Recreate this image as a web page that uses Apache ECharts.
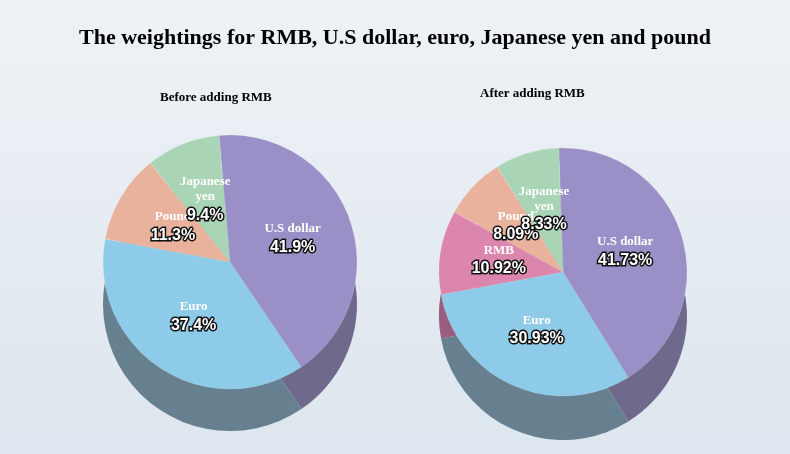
<!DOCTYPE html>
<html style="height: 100%" lang="en">
<head>
    <meta charset="UTF-8">
    <title>RMB weightings</title>
</head>
<body style="height: 100%; margin: 0; background: linear-gradient(#eef2f6, #dde6ee);">
<div id="main" style="width: 790px; height: 454px"></div>

<script src="https://cdn.jsdelivr.net/npm/echarts@6/dist/echarts.min.js"></script>
<script type="text/javascript">
    // data
    var beforeNames = ['U.S dollar', 'Euro', 'Pound', 'Japanese\nyen'];
    var beforeValues = [41.9, 37.4, 11.3, 9.4];
    var afterNames = ['U.S dollar', 'Euro', 'RMB', 'Pound', 'Japanese\nyen'];
    var afterValues = [41.73, 30.93, 10.92, 8.09, 8.33];

    var colors = {'U.S dollar': '#9a8fc6', 'Euro': '#8ecbe8', 'Pound': '#e9b29d', 'Japanese\nyen': '#a9d5b6', 'RMB': '#dc86ad'};
    var sideColors = {'U.S dollar': '#6f6a8c', 'Euro': '#66808f', 'Pound': '#8a7c80', 'Japanese\nyen': '#7b8e86', 'RMB': '#9a5f80'};

    function build(names, values, pal) {
        return names.map(function (n, i) {
            return {name: n, value: values[i], itemStyle: {color: pal[n]}};
        });
    }

    var labelStyle = {
        show: true,
        position: 'inside',
        formatter: function (p) { return '{n|' + p.name + '}\n{v|' + p.value + '%}'; },
        rich: {
            n: {color: '#fff', fontFamily: 'Liberation Serif', fontWeight: 'bold', fontSize: 13, lineHeight: 15, align: 'center'},
            v: {color: '#fff', fontFamily: 'Liberation Sans', fontWeight: 'bold', fontSize: 16, lineHeight: 22,
                textBorderColor: '#111', textBorderWidth: 3, align: 'center'}
        }
    };

    function pies(names, values, cx, cy, r, depth, start) {
        return [{
            type: 'pie', silent: true, z: 1, radius: r, center: [cx, cy + depth], startAngle: start,
            label: {show: false}, data: build(names, values, sideColors), animation: false
        }, {
            type: 'pie', z: 2, radius: r, center: [cx, cy], startAngle: start,
            avoidLabelOverlap: false, labelLayout: {hideOverlap: false},
            itemStyle: {borderColor: 'rgba(255,255,255,0.3)', borderWidth: 0.5},
            label: labelStyle, labelLine: {show: false}, data: build(names, values, colors), animation: false
        }];
    }

    var chart = echarts.init(document.getElementById('main'));
    chart.setOption({
        title: [{
            text: 'The weightings for RMB, U.S dollar, euro, Japanese yen and pound',
            left: 'center', top: 22,
            textStyle: {fontFamily: 'Liberation Serif', fontWeight: 'bold', fontSize: 22, color: '#000'}
        }, {
            text: 'Before adding RMB', left: 155, top: 86,
            textStyle: {fontFamily: 'Liberation Serif', fontWeight: 'bold', fontSize: 13, color: '#000'}
        }, {
            text: 'After adding RMB', left: 475, top: 82,
            textStyle: {fontFamily: 'Liberation Serif', fontWeight: 'bold', fontSize: 13, color: '#000'}
        }],
        series: pies(beforeNames, beforeValues, 230, 262, 127, 42, 95)
            .concat(pies(afterNames, afterValues, 563, 272, 124, 44, 92))
    });
</script>
</body>
</html>
